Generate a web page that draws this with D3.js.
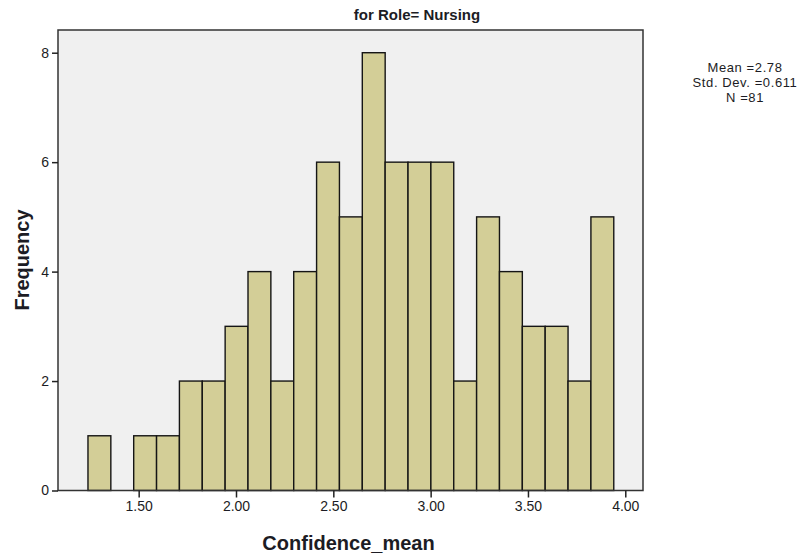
<!DOCTYPE html>
<html><head><meta charset="utf-8">
<script src="https://cdn.jsdelivr.net/npm/d3@7"></script>
<style>body{margin:0;background:#fff;} svg{display:block;} text{font-family:"Liberation Sans",Arial,sans-serif;fill:#1c1c24;}</style>
</head><body>
<svg id="chart" width="808" height="560"></svg>
<script>
// Data
const counts = [1,0,1,1,2,2,3,4,2,4,6,5,8,6,6,6,2,5,4,3,3,2,5];
const binStart = 1.2395;
const binWidth = 0.11745;
const xTicks = [1.5, 2.0, 2.5, 3.0, 3.5, 4.0];
const yTicks = [0, 2, 4, 6, 8];
const statsLines = ["Mean =2.78", "Std. Dev. =0.611", "N =81"];
const title = "for Role= Nursing";
const xLabel = "Confidence_mean";
const yLabel = "Frequency";

const bins = counts.map((c,i)=>({x0: binStart + i*binWidth, x1: binStart + (i+1)*binWidth, n: c}));

const svg = d3.select("#chart");
const L = 58, T = 30, R = 643, B = 490.5;
const x = d3.scaleLinear().domain([1.0855, 4.091]).range([L, R]);
const y = d3.scaleLinear().domain([0, 8.415]).range([B, T]);

// plot background
svg.append("rect").attr("x", L).attr("y", T).attr("width", R-L).attr("height", B-T)
  .attr("fill", "#f0f0f0");

// bars
svg.append("g").selectAll("rect").data(bins.filter(d=>d.n>0)).join("rect")
  .attr("x", d=>x(d.x0)).attr("y", d=>y(d.n))
  .attr("width", d=>x(d.x1)-x(d.x0)).attr("height", d=>y(0)-y(d.n))
  .attr("fill", "#d3ce97").attr("stroke", "#151515").attr("stroke-width", 1.4);

// frame
svg.append("rect").attr("x", L).attr("y", T).attr("width", R-L).attr("height", B-T)
  .attr("fill", "none").attr("stroke", "#333").attr("stroke-width", 1.5);

// axes
const xAxis = d3.axisBottom(x).tickValues(xTicks).tickFormat(d3.format(".2f")).tickSize(7).tickPadding(4);
const gx = svg.append("g").attr("transform", `translate(0,${B})`).call(xAxis);
gx.select(".domain").remove();
gx.selectAll("line").attr("stroke", "#222").attr("stroke-width", 1.5);
gx.selectAll("text").attr("font-size", 14).attr("fill", "#1c1c24").attr("font-family", "Liberation Sans, Arial, sans-serif");

const yAxis = d3.axisLeft(y).tickValues(yTicks).tickFormat(d3.format("d")).tickSize(6).tickPadding(3);
const gy = svg.append("g").attr("transform", `translate(${L},0)`).call(yAxis);
gy.select(".domain").remove();
gy.selectAll("line").attr("stroke", "#222").attr("stroke-width", 1.5);
gy.selectAll("text").attr("font-size", 14).attr("fill", "#1c1c24").attr("font-family", "Liberation Sans, Arial, sans-serif");

// title
svg.append("text").attr("x", 417).attr("y", 20).attr("text-anchor", "middle")
  .attr("font-size", 15).attr("font-weight", "bold").text(title);

// stats
svg.append("g").selectAll("text").data(statsLines).join("text")
  .attr("x", 745).attr("y", (d,i)=>71.5 + i*15).attr("text-anchor", "middle")
  .attr("font-size", 13).attr("letter-spacing", 0.6).text(d=>d);

// axis labels
svg.append("text").attr("x", 348.5).attr("y", 550).attr("text-anchor", "middle")
  .attr("font-size", 20).attr("font-weight", "bold").text(xLabel);
svg.append("text").attr("transform", "translate(28.5,260) rotate(-90)").attr("text-anchor", "middle")
  .attr("font-size", 20).attr("font-weight", "bold").text(yLabel);
</script>
</body></html>
